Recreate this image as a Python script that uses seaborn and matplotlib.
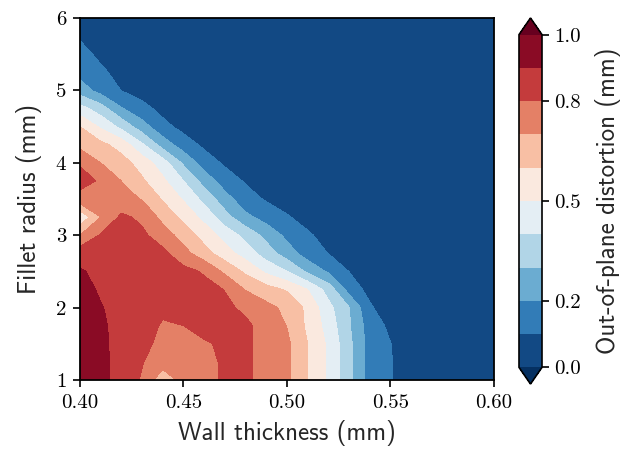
import numpy as np
import matplotlib
matplotlib.use("Agg")
import matplotlib.pyplot as plt
import seaborn as sns

# ---- data ----
wall_thickness = [0.40, 0.41, 0.42, 0.43, 0.44, 0.45, 0.46, 0.47, 0.48, 0.49, 0.50,
                  0.51, 0.52, 0.53, 0.54, 0.55, 0.56, 0.57, 0.58, 0.59, 0.60]
fillet_radius = [1.00, 1.25, 1.50, 1.75, 2.00, 2.25, 2.50, 2.75, 3.00, 3.25, 3.50,
                 3.75, 4.00, 4.25, 4.50, 4.75, 5.00, 5.25, 5.50, 5.75, 6.00]

r100 = [0.96, 0.93, 0.86, 0.79, 0.63, 0.74, 0.78, 0.81, 0.815, 0.77, 0.72, 0.60, 0.483, 0.325, 0.158, 0.105, 0.05, 0.03, 0.02, 0.02, 0.02]
r125 = [0.96, 0.93, 0.86, 0.805, 0.75, 0.75, 0.78, 0.81, 0.815, 0.77, 0.72, 0.60, 0.483, 0.325, 0.158, 0.105, 0.05, 0.03, 0.02, 0.02, 0.02]
r150 = [0.955, 0.925, 0.86, 0.82, 0.78, 0.77, 0.79, 0.815, 0.815, 0.77, 0.72, 0.60, 0.483, 0.325, 0.16, 0.102, 0.05, 0.03, 0.02, 0.02, 0.02]
r175 = [0.95, 0.915, 0.87, 0.84, 0.79, 0.80, 0.83, 0.84, 0.82, 0.76, 0.697, 0.58, 0.46, 0.31, 0.15, 0.08, 0.04, 0.03, 0.02, 0.02, 0.02]
r200 = [0.94, 0.905, 0.87, 0.85, 0.82, 0.83, 0.83, 0.82, 0.78, 0.73, 0.675, 0.577, 0.43, 0.304, 0.115, 0.03, 0.02, 0.02, 0.02, 0.02, 0.02]
r225 = [0.93, 0.89, 0.86, 0.85, 0.845, 0.84, 0.83, 0.797, 0.695, 0.64, 0.59, 0.50, 0.36, 0.16, 0.068, 0.03, 0.02, 0.02, 0.02, 0.02, 0.02]
r250 = [0.91, 0.875, 0.86, 0.85, 0.84, 0.83, 0.79, 0.68, 0.58, 0.48, 0.40, 0.28, 0.185, 0.098, 0.05, 0.03, 0.02, 0.02, 0.02, 0.02, 0.02]
r275 = [0.86, 0.85, 0.845, 0.835, 0.825, 0.735, 0.64, 0.545, 0.455, 0.35, 0.25, 0.15, 0.098, 0.05, 0.03, 0.02, 0.02, 0.02, 0.02, 0.02, 0.02]
r300 = [0.70, 0.81, 0.84, 0.82, 0.75, 0.66, 0.56, 0.46, 0.37, 0.27, 0.175, 0.115, 0.06, 0.04, 0.03, 0.02, 0.02, 0.02, 0.02, 0.02, 0.02]
r325 = [0.52, 0.70, 0.82, 0.78, 0.67, 0.57, 0.47, 0.34, 0.225, 0.16, 0.11, 0.06, 0.04, 0.03, 0.02, 0.02, 0.02, 0.02, 0.02, 0.02, 0.02]
r350 = [0.76, 0.75, 0.73, 0.695, 0.59, 0.49, 0.37, 0.24, 0.14, 0.09, 0.05, 0.03, 0.02, 0.02, 0.02, 0.02, 0.02, 0.02, 0.02, 0.02, 0.02]
r375 = [0.84, 0.787, 0.699, 0.615, 0.52, 0.40, 0.26, 0.15, 0.09, 0.05, 0.03, 0.02, 0.02, 0.02, 0.02, 0.02, 0.02, 0.02, 0.02, 0.02, 0.02]
r400 = [0.79, 0.70, 0.64, 0.557, 0.447, 0.283, 0.152, 0.085, 0.05, 0.03, 0.02, 0.02, 0.02, 0.02, 0.02, 0.02, 0.02, 0.02, 0.02, 0.02, 0.02]
r425 = [0.67, 0.627, 0.559, 0.415, 0.257, 0.148, 0.08, 0.05, 0.03, 0.02, 0.02, 0.02, 0.02, 0.02, 0.02, 0.02, 0.02, 0.02, 0.02, 0.02, 0.02]
r450 = [0.60, 0.483, 0.372, 0.243, 0.129, 0.07, 0.04, 0.03, 0.02, 0.02, 0.02, 0.02, 0.02, 0.02, 0.02, 0.02, 0.02, 0.02, 0.02, 0.02, 0.02]
r475 = [0.44, 0.347, 0.208, 0.131, 0.07, 0.04, 0.03, 0.02, 0.02, 0.02, 0.02, 0.02, 0.02, 0.02, 0.02, 0.02, 0.02, 0.02, 0.02, 0.02, 0.02]
r500 = [0.25, 0.161, 0.098, 0.06, 0.04, 0.03, 0.02, 0.02, 0.02, 0.02, 0.02, 0.02, 0.02, 0.02, 0.02, 0.02, 0.02, 0.02, 0.02, 0.02, 0.02]
r525 = [0.17, 0.117, 0.07, 0.04, 0.03, 0.02, 0.02, 0.02, 0.02, 0.02, 0.02, 0.02, 0.02, 0.02, 0.02, 0.02, 0.02, 0.02, 0.02, 0.02, 0.02]
r550 = [0.13, 0.08, 0.05, 0.03, 0.02, 0.02, 0.02, 0.02, 0.02, 0.02, 0.02, 0.02, 0.02, 0.02, 0.02, 0.02, 0.02, 0.02, 0.02, 0.02, 0.02]
r575 = [0.09, 0.05, 0.03, 0.02, 0.02, 0.02, 0.02, 0.02, 0.02, 0.02, 0.02, 0.02, 0.02, 0.02, 0.02, 0.02, 0.02, 0.02, 0.02, 0.02, 0.02]
r600 = [0.06, 0.04, 0.03, 0.02, 0.02, 0.02, 0.02, 0.02, 0.02, 0.02, 0.02, 0.02, 0.02, 0.02, 0.02, 0.02, 0.02, 0.02, 0.02, 0.02, 0.02]

x_ticks = [0.40, 0.45, 0.50, 0.55, 0.60]
x_tick_labels = ["0.40", "0.45", "0.50", "0.55", "0.60"]
y_ticks = [1, 2, 3, 4, 5, 6]
y_tick_labels = ["1", "2", "3", "4", "5", "6"]
cbar_ticks = [0.0, 0.2, 0.5, 0.8, 1.0]
cbar_tick_labels = ["0.0", "0.2", "0.5", "0.8", "1.0"]
contour_levels = [0.0, 0.1, 0.2, 0.3, 0.4, 0.5, 0.6, 0.7, 0.8, 0.9, 1.0]

distortion = np.array([r100, r125, r150, r175, r200, r225, r250, r275, r300, r325, r350,
                       r375, r400, r425, r450, r475, r500, r525, r550, r575, r600])

# ---- style ----
sns.set_theme(style="ticks")
plt.rcParams["font.family"] = ["cmss10", "DejaVu Sans"]
plt.rcParams["axes.unicode_minus"] = False
plt.rcParams["axes.edgecolor"] = "black"
plt.rcParams["xtick.color"] = "black"
plt.rcParams["ytick.color"] = "black"

cmap = sns.color_palette("RdBu_r", as_cmap=True)

W, H = 628, 453
fig = plt.figure(figsize=(W / 100, H / 100), dpi=100)
ax = fig.add_axes([80 / W, (H - 380) / H, 414 / W, 362 / H])

X, Y = np.meshgrid(wall_thickness, fillet_radius)
cs = ax.contourf(X, Y, distortion, levels=contour_levels, cmap=cmap, extend="both")

ax.set_xlim(0.40, 0.60)
ax.set_ylim(1, 6)
ax.set_xticks(x_ticks)
ax.set_xticklabels(x_tick_labels)
ax.set_yticks(y_ticks)
ax.set_yticklabels(y_tick_labels)
ax.tick_params(axis="both", direction="out", length=5, width=1.2, labelsize=15,
               labelfontfamily="cmr10", pad=5)
for s in ax.spines.values():
    s.set_linewidth(1.3)
    s.set_color("black")
ax.set_xlabel("Wall thickness (mm)", fontsize=18, labelpad=6)
ax.set_ylabel("Fillet radius (mm)", fontsize=18, labelpad=10)

cax = fig.add_axes([519 / W, (H - 384) / H, 23 / W, 366 / H])
cb = fig.colorbar(cs, cax=cax, ticks=cbar_ticks)
cb.ax.set_yticklabels(cbar_tick_labels)
cb.ax.tick_params(direction="out", length=5, width=1.2, labelsize=15,
                  labelfontfamily="cmr10", pad=4)
cb.outline.set_linewidth(1.2)
cb.set_label("Out-of-plane distortion (mm)", fontsize=18, labelpad=10)

fig.savefig("out.png", dpi=100)
